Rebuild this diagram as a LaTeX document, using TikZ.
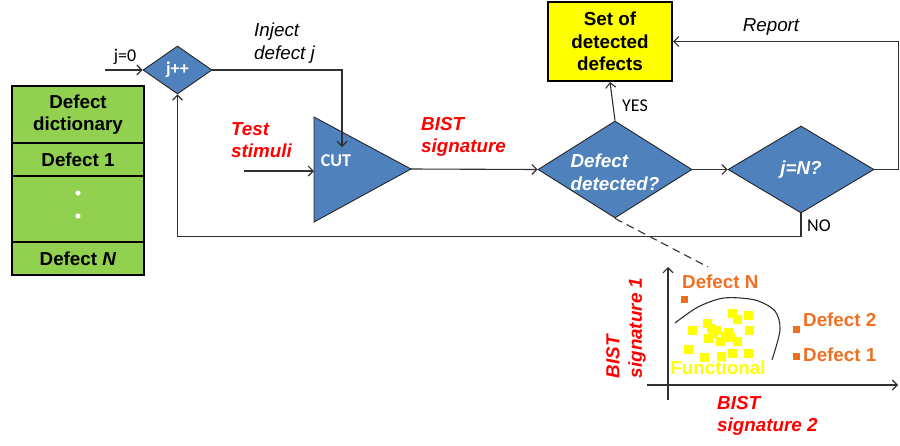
\documentclass[tikz,border=0pt]{standalone}
\usepackage{fontspec}
\setmainfont{Liberation Sans}
\newfontfamily\calfont{Carlito}
\usetikzlibrary{arrows.meta,shapes.geometric}
\definecolor{cblue}{HTML}{4F81BD}
\definecolor{cgreen}{HTML}{92D050}
\definecolor{cyellow}{HTML}{FFFF00}
\definecolor{cred}{HTML}{FF0000}
\definecolor{corange}{HTML}{F07022}
\definecolor{cline}{HTML}{303030}
\newcommand\bigtxt{\fontsize{18.8}{22.5}\selectfont}
\newcommand\caltxt{\fontsize{18}{20}\selectfont\calfont}
\begin{document}
\begin{tikzpicture}[x=1pt,y=-1pt,
  arr/.style={draw=cline, line width=1.1, -{Straight Barb[length=5pt,width=10pt]}},
  plain/.style={draw=cline, line width=1.1},
  dictrow/.style={draw=black, line width=2.2, fill=cgreen, minimum width=132, inner sep=0, font=\bigtxt\bfseries, align=center},
  dia/.style={diamond, draw=black!85, line width=0.9, fill=cblue, inner sep=0},
  redlbl/.style={text=cred, font=\bigtxt\bfseries\itshape, align=left, inner sep=0},
  blklbl/.style={text=black, font=\bigtxt\itshape, align=left, inner sep=0},
  callbl/.style={text=black, font=\caltxt, inner sep=0},
  orlbl/.style={text=corange, font=\bigtxt\bfseries, inner sep=0, anchor=west}
]
\useasboundingbox (0,0) rectangle (900,445);

% defect dictionary
\node[dictrow, minimum height=57] (r0) at (78,114.5) {Defect\\dictionary};
\node[dictrow, minimum height=33] (r1) at (78,159.5) {Defect 1};
\node[dictrow, minimum height=66] (r2) at (78,209) {};
\node[dictrow, minimum height=33] (r3) at (78,258.5) {Defect \textit{N}};
\fill[white] (78,193) circle (2.6);
\fill[white] (78,216) circle (2.6);

% j++ diamond
\coordinate (start) at (105,70);
\node[callbl] (j0) at (125,57) {j=0};
\node[dia, minimum width=69, minimum height=48,
  label={[text=white, font=\caltxt\bfseries]center:j++}] (jpp) at (177.5,70) {};

% CUT triangle
\coordinate (cA) at (314,117);
\coordinate (cB) at (411,169);
\coordinate (cC) at (314,222);
\filldraw[fill=cblue, draw=black!85, line width=0.9] (cA) -- (cB) -- (cC) -- cycle;
\node[text=white, font=\caltxt\bfseries, inner sep=0] (cut) at (336,161) {CUT};
\coordinate (cutin) at (314,171);
\coordinate (cutinj) at (342,147);
\coordinate (stimin) at (244,171);

% labels
\node[blklbl, anchor=west] (inj) at (254,43) {Inject\\defect \textit{j}};
\node[redlbl, anchor=west] (stim) at (231,140) {Test\\stimuli};
\node[redlbl, anchor=west] (sig) at (421,137) {BIST\\signature};
\node[blklbl] (rep) at (771,27) {Report};

% decision diamonds
\node[dia, minimum width=154, minimum height=97,
  label={[text=white, font=\bigtxt\bfseries\itshape, align=left, inner sep=0, yshift=-3]center:Defect\\detected?}] (dd) at (615,169.5) {};
\node[dia, minimum width=146, minimum height=87,
  label={[text=white, font=\bigtxt\bfseries\itshape, inner sep=0]center:j=N?}] (jn) at (801,169.5) {};

% set box
\node[draw=black, line width=2, fill=cyellow, minimum width=124, minimum height=79,
  font=\bigtxt\bfseries, align=center, inner sep=0] (set) at (610,41.5) {Set of\\detected\\defects};

\node[callbl] (yes) at (635,106) {YES};
\node[callbl] (no) at (819,226) {NO};

% connectors
\draw[arr] (start) -- (jpp.west);
\draw[arr] (jpp.east) -| (cutinj);
\draw[arr] (stimin) -- (cutin);
\draw[arr] (cB) -- (dd.west);
\draw[arr] (dd.east) -- (jn.west);
\draw[arr] (dd.north) -- (set.south);
\draw[arr] (jn.east) -- ++(24,0) |- (set.east);
\draw[arr] (jn.south) -- ++(0,23) -| (jpp.south);

% scatter plot
\coordinate (dashend) at (708,267);
\draw[plain, dash pattern=on 8 off 5] (dd.south) -- (dashend);
\coordinate (yb) at (668,400);
\coordinate (yt) at (668,267);
\coordinate (xl) at (647,385);
\coordinate (xr) at (898,385);
\draw[arr] (yb) -- (yt);
\draw[arr] (xl) -- (xr);

\draw[plain] plot[smooth] coordinates {(675,323) (698,307) (724,298) (755,300) (775,311) (780,330) (772,360)};

\foreach \px/\py in {692/330, 688/349, 707/323, 711/328, 716/330, 708/338, 704/357, 720/341, 721/356, 728/332, 732/313, 737/319, 748/315, 749/330, 737/341, 732/353, 748/353, 725/336, 713/333, 730/337}
  \fill[cyellow] (\px-4.5,\py-4.5) rectangle (\px+4.5,\py+4.5);

\fill[corange] (680.5,295.5) rectangle (687.5,302.5);
\fill[corange] (793,326) rectangle (800,333);
\fill[corange] (793,353) rectangle (800,360);

\node[text=cyellow, font=\bigtxt\bfseries, inner sep=0] (func) at (718,368) {Functional};
\node[orlbl] (dN) at (682,282) {Defect N};
\node[orlbl] (d2) at (803,320) {Defect 2};
\node[orlbl] (d1) at (803,355) {Defect 1};

\node[redlbl, rotate=90] (ylab) at (626,328) {BIST\\signature 1};
\node[redlbl, anchor=west] (xlab) at (717,416) {BIST\\signature 2};
\end{tikzpicture}
\end{document}
